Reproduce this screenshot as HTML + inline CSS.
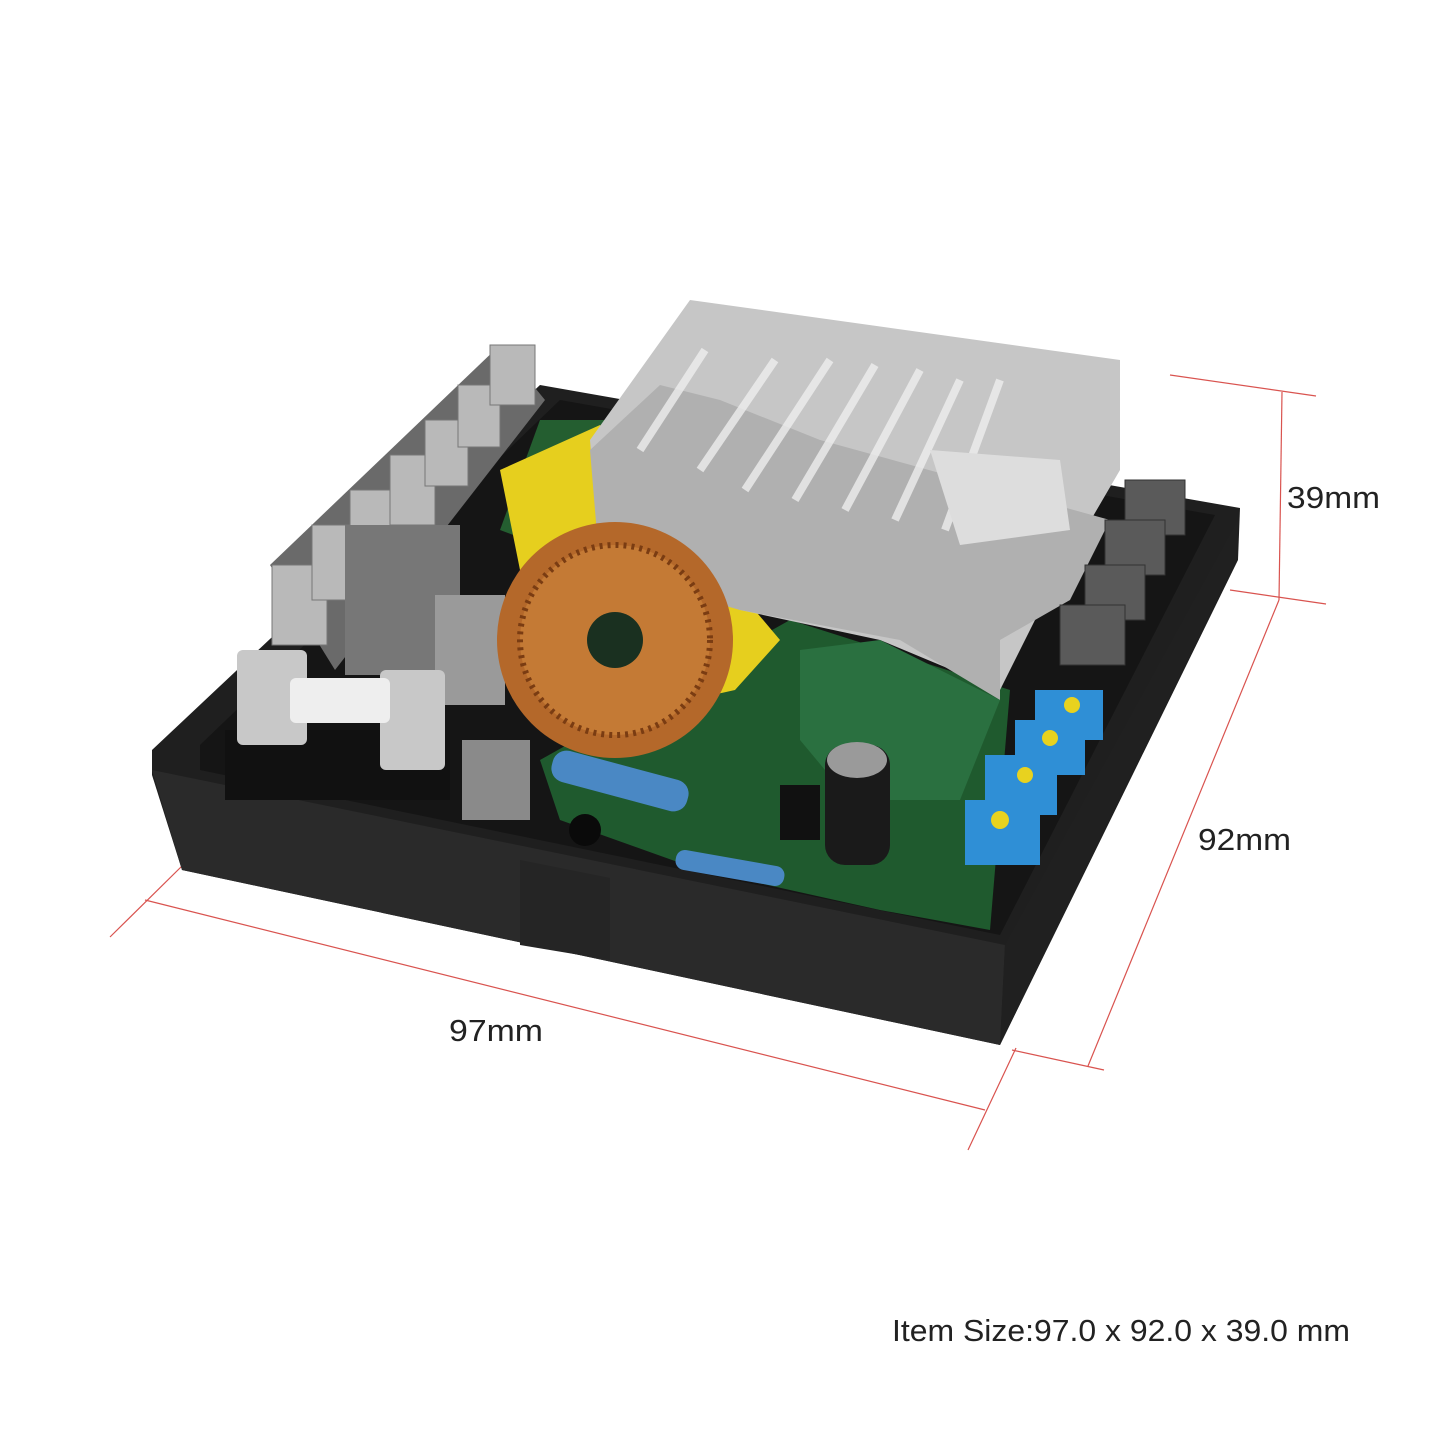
<!DOCTYPE html>
<html><head><meta charset="utf-8"><style>
html,body{margin:0;padding:0;background:#fff;}
svg{display:block}
text{font-family:"Liberation Sans",sans-serif;fill:#222}
</style></head><body>
<svg width="1445" height="1445" viewBox="0 0 1445 1445" xmlns="http://www.w3.org/2000/svg">
<rect width="1445" height="1445" fill="#fff"/>
<g stroke="#d9534f" stroke-width="1.2" fill="none">
<line x1="1170" y1="375" x2="1316" y2="396"/>
<line x1="1230" y1="590" x2="1326" y2="604"/>
<line x1="1282" y1="392" x2="1279" y2="600"/>
<line x1="1279" y1="600" x2="1088" y2="1066"/>
<line x1="1012" y1="1050" x2="1104" y2="1070"/>
<line x1="145" y1="900" x2="985" y2="1110"/>
<line x1="110" y1="937" x2="182" y2="866"/>
<line x1="968" y1="1150" x2="1016" y2="1048"/>
</g>
<text x="1287" y="508" font-size="31" textLength="93" lengthAdjust="spacingAndGlyphs">39mm</text>
<text x="1198" y="850" font-size="31" textLength="93" lengthAdjust="spacingAndGlyphs">92mm</text>
<text x="449" y="1041" font-size="31" textLength="94" lengthAdjust="spacingAndGlyphs">97mm</text>
<text x="892" y="1341" font-size="31" textLength="458" lengthAdjust="spacingAndGlyphs">Item Size:97.0 x 92.0 x 39.0 mm</text>
<polygon points="152,750 540,385 1240,508 1238,560 1000,1045 182,870 152,775" fill="#1f1f1f"/>
<polygon points="152,770 1005,945 1000,1045 182,870" fill="#2a2a2a"/>
<polygon points="1005,945 1238,520 1236,560 1000,1045" fill="#202020"/>
<polygon points="520,860 610,878 610,960 520,945" fill="#252525"/>
<polygon points="200,745 560,400 1215,515 1000,935 200,770" fill="#151515"/>
<polygon points="540,760 790,620 1010,690 990,930 880,910 700,870 560,820" fill="#1f5a2e"/>
<polygon points="540,420 620,420 580,560 500,530" fill="#245e30"/>
<polygon points="270,565 500,345 545,400 335,670" fill="#6a6a6a"/>
<g fill="#b9b9b9" stroke="#777">
<rect x="272" y="565" width="55" height="80"/>
<rect x="312" y="525" width="50" height="75"/>
<rect x="350" y="490" width="48" height="72"/>
<rect x="390" y="455" width="45" height="70"/>
<rect x="425" y="420" width="43" height="66"/>
<rect x="458" y="385" width="42" height="62"/>
<rect x="490" y="345" width="45" height="60"/>
</g>
<rect x="345" y="525" width="115" height="150" fill="#777"/>
<rect x="435" y="595" width="70" height="110" fill="#9a9a9a"/>
<rect x="225" y="730" width="225" height="70" fill="#111"/>
<rect x="237" y="650" width="70" height="95" fill="#c8c8c8" rx="6"/>
<rect x="380" y="670" width="65" height="100" fill="#c8c8c8" rx="6"/>
<rect x="290" y="678" width="100" height="45" fill="#eee" rx="6"/>
<polygon points="500,470 600,425 620,450 780,640 735,690 690,700 520,570" fill="#e6cf1e"/>
<polygon points="590,440 690,300 1120,360 1120,470 1050,590 1000,690 880,640 740,610 600,560" fill="#c6c6c6"/>
<polygon points="590,450 660,385 720,400 820,440 1110,520 1070,600 1000,640 1000,700 900,640 740,610 600,570" fill="#b0b0b0"/>
<g stroke="#eee" stroke-width="8" opacity="0.8">
<line x1="640" y1="450" x2="705" y2="350"/><line x1="700" y1="470" x2="775" y2="360"/>
<line x1="745" y1="490" x2="830" y2="360"/><line x1="795" y1="500" x2="875" y2="365"/>
<line x1="845" y1="510" x2="920" y2="370"/><line x1="895" y1="520" x2="960" y2="380"/>
<line x1="945" y1="530" x2="1000" y2="380"/>
</g>
<polygon points="930,450 1060,460 1070,530 960,545" fill="#ddd"/>
<circle cx="615" cy="640" r="118" fill="#b4682a"/>
<circle cx="615" cy="640" r="95" fill="#c47a35" stroke="#7a3c12" stroke-width="6" stroke-dasharray="3 5"/>
<circle cx="615" cy="640" r="28" fill="#1a3020"/>
<rect x="462" y="740" width="68" height="80" fill="#8a8a8a"/>
<rect x="550" y="765" width="140" height="32" rx="14" fill="#4a88c4" transform="rotate(15 620 781)"/>
<rect x="675" y="858" width="110" height="20" rx="9" fill="#4a88c4" transform="rotate(10 730 868)"/>
<polygon points="800,650 880,640 1000,700 960,800 850,800 800,740" fill="#2a7040"/>
<rect x="825" y="745" width="65" height="120" rx="20" fill="#1a1a1a"/>
<ellipse cx="857" cy="760" rx="30" ry="18" fill="#9a9a9a"/>
<rect x="780" y="785" width="40" height="55" fill="#111"/>
<g fill="#5a5a5a" stroke="#333">
<rect x="1125" y="480" width="60" height="55"/>
<rect x="1105" y="520" width="60" height="55"/>
<rect x="1085" y="565" width="60" height="55"/>
<rect x="1060" y="605" width="65" height="60"/>
</g>
<g fill="#2f8fd6">
<rect x="1035" y="690" width="68" height="50"/>
<rect x="1015" y="720" width="70" height="55"/>
<rect x="985" y="755" width="72" height="60"/>
<rect x="965" y="800" width="75" height="65"/>
</g>
<g fill="#e8d21f"><circle cx="1072" cy="705" r="8"/><circle cx="1050" cy="738" r="8"/><circle cx="1025" cy="775" r="8"/><circle cx="1000" cy="820" r="9"/></g>
<circle cx="585" cy="830" r="16" fill="#0a0a0a"/>
</svg>
</body></html>
